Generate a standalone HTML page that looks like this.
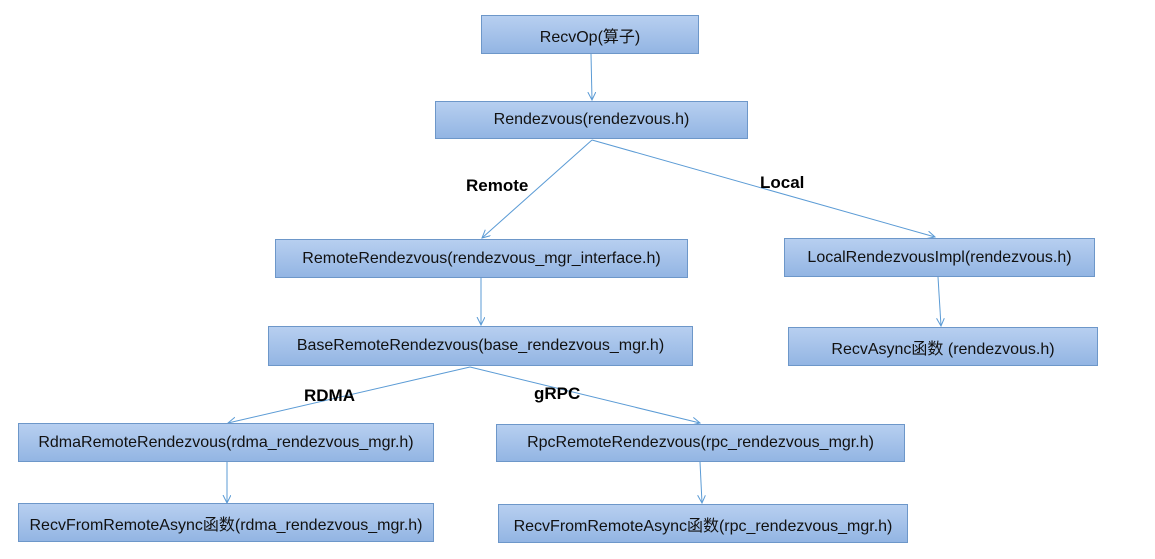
<!DOCTYPE html>
<html><head><meta charset="utf-8"><style>
body{margin:0;width:1155px;height:559px;background:#fff;position:relative;overflow:hidden;font-family:"Liberation Sans","Noto Sans CJK SC",sans-serif}
.b{position:absolute;box-sizing:border-box;border:1px solid #6d97c9;background:linear-gradient(#b7cff0,#93b5e3);display:flex;align-items:center;justify-content:center;font-size:16px;color:#111;white-space:nowrap}
.l{position:absolute;font-weight:bold;font-size:17px;color:#000}
svg{position:absolute;left:0;top:0}
</style></head><body>
<svg width="1155" height="559"><defs><marker id="a" markerWidth="10" markerHeight="10" refX="8" refY="4" orient="auto" markerUnits="userSpaceOnUse"><path d="M0,0 L8,4 L0,8" fill="none" stroke="#5b9bd5" stroke-width="1"/></marker></defs>
<g stroke="#5b9bd5" stroke-width="1" fill="none" marker-end="url(#a)">
<line x1="591" y1="54" x2="592" y2="100"/>
<line x1="592" y1="140" x2="482" y2="238"/>
<line x1="592" y1="140" x2="935" y2="237"/>
<line x1="481" y1="278" x2="481" y2="325"/>
<line x1="938" y1="277" x2="941" y2="326"/>
<line x1="470" y1="367" x2="228" y2="423"/>
<line x1="470" y1="367" x2="700" y2="423"/>
<line x1="227" y1="462" x2="227" y2="503"/>
<line x1="700" y1="462" x2="702" y2="503"/>
</g></svg>
<div class="b" style="left:481px;top:15px;width:218px;height:39px">RecvOp(算子)</div>
<div class="b" style="left:435px;top:101px;width:313px;height:38px">Rendezvous(rendezvous.h)</div>
<div class="b" style="left:275px;top:239px;width:413px;height:39px">RemoteRendezvous(rendezvous_mgr_interface.h)</div>
<div class="b" style="left:784px;top:238px;width:311px;height:39px">LocalRendezvousImpl(rendezvous.h)</div>
<div class="b" style="left:268px;top:326px;width:425px;height:40px">BaseRemoteRendezvous(base_rendezvous_mgr.h)</div>
<div class="b" style="left:788px;top:327px;width:310px;height:39px">RecvAsync函数 (rendezvous.h)</div>
<div class="b" style="left:18px;top:423px;width:416px;height:39px">RdmaRemoteRendezvous(rdma_rendezvous_mgr.h)</div>
<div class="b" style="left:496px;top:424px;width:409px;height:38px">RpcRemoteRendezvous(rpc_rendezvous_mgr.h)</div>
<div class="b" style="left:18px;top:503px;width:416px;height:39px">RecvFromRemoteAsync函数(rdma_rendezvous_mgr.h)</div>
<div class="b" style="left:498px;top:504px;width:410px;height:39px">RecvFromRemoteAsync函数(rpc_rendezvous_mgr.h)</div>
<div class="l" style="left:466px;top:176px">Remote</div>
<div class="l" style="left:760px;top:173px">Local</div>
<div class="l" style="left:304px;top:386px">RDMA</div>
<div class="l" style="left:534px;top:384px">gRPC</div>
</body></html>
